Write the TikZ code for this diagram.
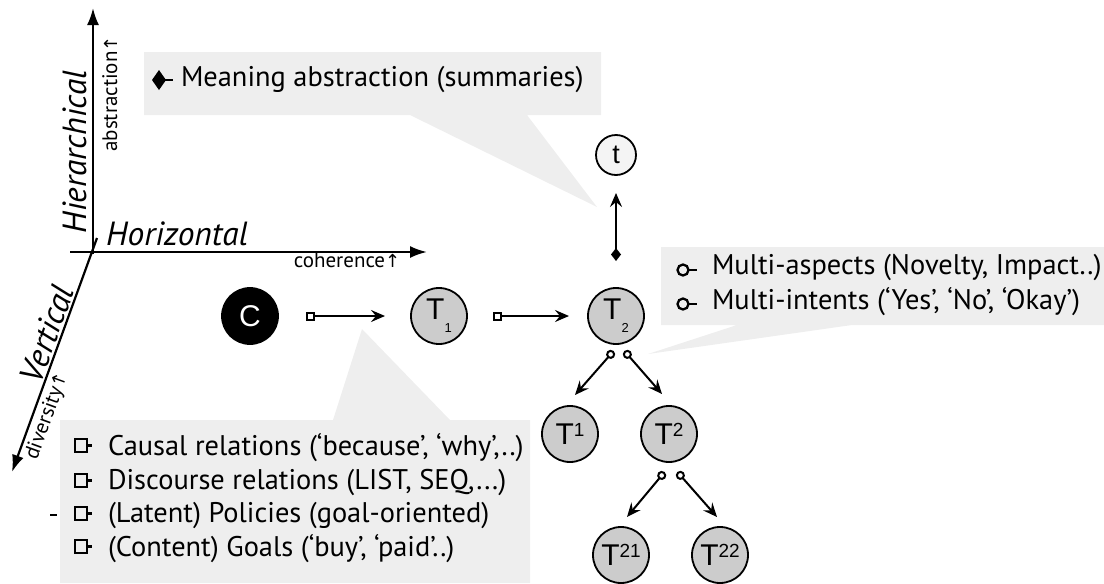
\documentclass[tikz,border=0pt]{standalone}
\usepackage{fontspec}
\setmainfont{PT Sans}
\newfontfamily\arialf{Liberation Sans}
\newfontfamily\symf{DejaVu Sans}
\usetikzlibrary{arrows.meta,calc}
\definecolor{calloutgray}{HTML}{EEEEEE}
\definecolor{nodegray}{HTML}{CCCCCC}
\definecolor{tgray}{HTML}{F4F4F4}
\newcommand{\upar}{{\symf\fontsize{18}{18}\selectfont ↑}}
\begin{document}
\begin{tikzpicture}[x=1pt,y=-1pt,
  every node/.style={inner sep=0pt, outer sep=0pt},
  callout/.style={fill=calloutgray, draw=none},
  circnode/.style={circle, draw=black, line width=1.8pt, minimum size=56pt, font=\arialf\fontsize{30}{30}\selectfont},
  tnode/.style={circnode, fill=nodegray},
  axis/.style={line width=2.2pt, -{Latex[length=17pt,width=12pt]}},
  conn/.style={line width=2pt},
  ltext/.style={anchor=west, font=\fontsize{28.4}{30}\selectfont},
  axlabel/.style={font=\itshape\fontsize{33.5}{34}\selectfont},
  smalllabel/.style={font=\fontsize{21}{21}\selectfont},
  sym/.style={line width=2.3pt}
]
\useasboundingbox (0,0) rectangle (1104,584);

% callouts
\fill[callout] (144,52) -- (601,52) -- (601,115) -- (527,115) -- (597,207) -- (410,115) -- (144,115) -- cycle;
\fill[callout] (661,247) -- (1104,247) -- (1104,325) -- (852,325) -- (648,354) -- (737,325) -- (661,325) -- cycle;
\fill[callout] (60,420) -- (333,420) -- (362,329) -- (450,420) -- (530,420) -- (530,583) -- (60,583) -- cycle;

% axes
\coordinate (vbot) at (93,254);
\coordinate (vtop) at (93,8);
\coordinate (hl) at (70,252);
\coordinate (hr) at (427,252);
\coordinate (dtop) at (97,238);
\coordinate (dbot) at (12,472);
\draw[axis] (vbot) -- (vtop);
\draw[axis] (hl) -- (hr);
\draw[axis] (dtop) -- (dbot);

\node[axlabel, rotate=90, anchor=base] (hier) at (86,152) {Hierarchical};
\node[smalllabel, rotate=90, anchor=base] (abs) at (117,94) {abstraction\upar};
\node[axlabel, anchor=base] (hor) at (177,245) {Horizontal};
\node[smalllabel, anchor=base] (coh) at (347,267) {coherence\upar};
\node[axlabel, rotate=70, anchor=base] (ver) at (57.5,338) {Vertical};
\node[smalllabel, rotate=70, anchor=north] (div) at (38.4,413) {diversity\upar};

% nodes
\node[circnode, fill=black, text=white] (C) at (250,316) {C};
\node[tnode] (T1) at (439,316) {T\raisebox{-13pt}{\fontsize{13}{13}\selectfont 1}};
\node[tnode] (T2) at (616,316) {T\raisebox{-13pt}{\fontsize{13}{13}\selectfont 2}};
\node[circnode, fill=tgray, minimum size=40pt, font=\arialf\fontsize{27}{27}\selectfont] (t) at (616,155) {t};
\node[tnode] (Ta) at (570,434) {T\raisebox{8pt}{\fontsize{19}{19}\selectfont 1}};
\node[tnode] (Tb) at (669,434) {T\raisebox{8pt}{\fontsize{19}{19}\selectfont 2}};
\node[tnode] (Tba) at (621,555) {T\raisebox{8pt}{\fontsize{19}{19}\selectfont 21}};
\node[tnode] (Tbb) at (720,555) {T\raisebox{8pt}{\fontsize{19}{19}\selectfont 22}};

% horizontal connectors
\draw[conn, {Square[open,length=9pt,width=9pt]}-{Stealth[length=14pt,width=12pt,inset=5pt]}, shorten <=28pt, shorten >=26pt] (C) -- (T1);
\draw[conn, {Square[open,length=9pt,width=9pt]}-{Stealth[length=14pt,width=12pt,inset=5pt]}, shorten <=26pt, shorten >=19pt] (T1) -- (T2);
% vertical connector
\draw[conn, {Diamond[length=13pt,width=10pt]}-{Stealth[length=14pt,width=12pt,inset=5pt]}, shorten <=27pt, shorten >=18pt] (T2) -- (t);

% tree connectors
\coordinate (s1) at (613.6,351);
\coordinate (e1) at (575,395);
\coordinate (s2) at (624.4,351);
\coordinate (e2) at (662,394);
\coordinate (s3) at (664.6,472);
\coordinate (e3) at (627,517);
\coordinate (s4) at (677.4,472);
\coordinate (e4) at (717,517);
\foreach \a/\b in {s1/e1,s2/e2,s3/e3,s4/e4}{
  \draw[conn, {Circle[open,length=9pt,width=9pt]}-{Stealth[length=14pt,width=12pt,inset=5pt]}] (\a) -- (\b);
}

% callout texts
\fill (159,70) -- (166,80) -- (159,90) -- (152,80) -- cycle;
\draw[sym] (165,80) -- (173,80);
\node[ltext] (ma) at (181,80) {Meaning abstraction (summaries)};

\foreach \yy/\nm/\tx in {448/l1/{Causal relations (‘because’, ‘why’,..)},483/l2/{Discourse relations (LIST, SEQ,...)},516/l3/{(Latent) Policies (goal-oriented)},549/l4/{(Content) Goals (‘buy’, ‘paid’..)}}{
  \draw[sym] (75,\yy-9) rectangle (87,\yy+4);
  \draw[sym] (87,\yy-2.5) -- (92,\yy-2.5);
  \node[ltext] (\nm) at (108,\yy) {\tx};
}
\draw[sym] (50,515) -- (57,515);

\foreach \yy/\nm/\tx in {268/r1/{Multi-aspects (Novelty, Impact..)},302/r2/{Multi-intents (‘Yes’, ‘No’, ‘Okay’)}}{
  \draw[sym] (683,\yy+2) circle (5.5);
  \draw[sym] (688.5,\yy+2) -- (697,\yy+2);
  \node[ltext] (\nm) at (712,\yy) {\tx};
}
\end{tikzpicture}
\end{document}
